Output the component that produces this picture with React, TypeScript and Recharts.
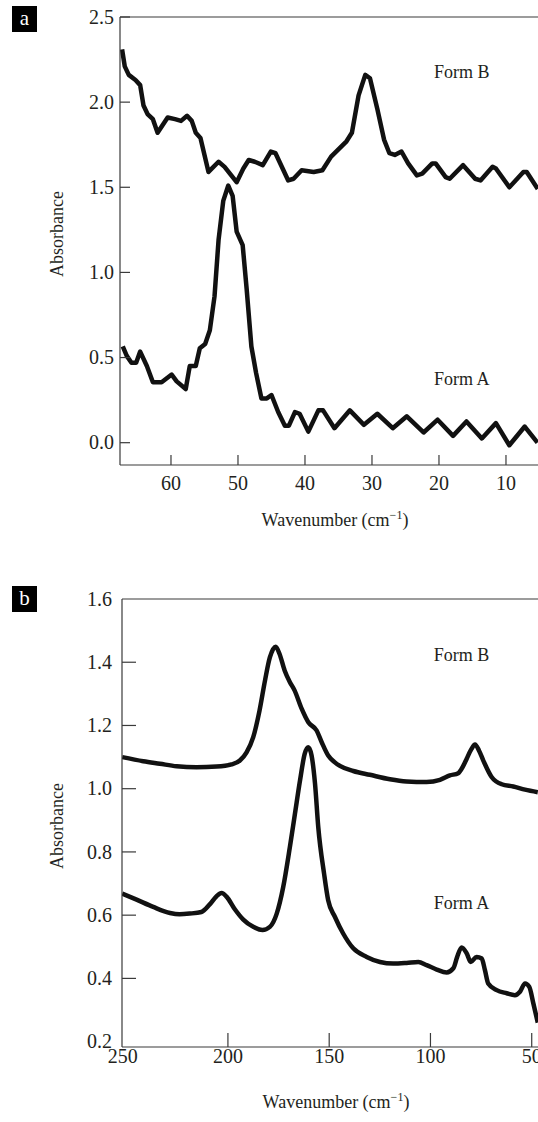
import { LineChart, Line, XAxis, YAxis, ReferenceLine, ReferenceDot } from 'recharts';

// Panel a (far-IR, 0–68 cm-1)
const aFormBWn = [67.3, 66.9, 66.3, 65.3, 64.6, 64.1, 63.5, 62.7, 62.0, 60.5, 59.4, 58.5, 57.6, 56.9, 56.3, 55.6, 54.4, 52.9, 52.0, 50.2, 49.2, 48.4, 47.5, 46.3, 45.1, 44.4, 42.5, 41.7, 40.5, 38.7, 37.4, 36.1, 33.8, 33.0, 32.0, 31.0, 30.3, 29.2, 28.2, 27.4, 26.6, 25.6, 24.6, 23.3, 22.5, 21.0, 20.5, 19.0, 18.4, 16.4, 14.6, 13.8, 12.0, 11.5, 9.5, 7.4, 6.9, 5.25];
const aFormBAbs = [2.31, 2.21, 2.16, 2.13, 2.1, 1.98, 1.93, 1.9, 1.82, 1.91, 1.9, 1.89, 1.92, 1.89, 1.82, 1.79, 1.59, 1.65, 1.62, 1.53, 1.61, 1.66, 1.65, 1.63, 1.71, 1.7, 1.54, 1.55, 1.6, 1.59, 1.6, 1.68, 1.77, 1.82, 2.04, 2.16, 2.14, 1.96, 1.78, 1.7, 1.69, 1.71, 1.64, 1.57, 1.58, 1.64, 1.64, 1.56, 1.55, 1.63, 1.55, 1.54, 1.62, 1.61, 1.5, 1.59, 1.59, 1.49];

const aFormAWn = [67.2, 66.6, 65.9, 65.2, 64.6, 63.6, 62.7, 61.4, 59.9, 59.15, 57.8, 57.2, 56.3, 55.7, 54.9, 54.2, 53.5, 52.9, 52.2, 51.45, 50.8, 50.2, 49.3, 48.7, 48.0, 47.3, 46.5, 45.7, 45.0, 44.0, 43.0, 42.4, 41.5, 40.8, 39.5, 38.0, 37.3, 35.6, 33.3, 31.2, 29.2, 26.9, 24.8, 22.3, 20.2, 17.9, 15.9, 13.6, 11.5, 9.5, 7.2, 5.3];
const aFormAAbs = [0.565, 0.51, 0.47, 0.47, 0.535, 0.45, 0.355, 0.355, 0.4, 0.36, 0.315, 0.45, 0.45, 0.555, 0.58, 0.66, 0.86, 1.19, 1.42, 1.51, 1.45, 1.24, 1.16, 0.9, 0.565, 0.41, 0.26, 0.26, 0.28, 0.18, 0.1, 0.1, 0.18, 0.17, 0.065, 0.19, 0.19, 0.085, 0.19, 0.105, 0.17, 0.085, 0.155, 0.06, 0.135, 0.04, 0.125, 0.025, 0.115, -0.015, 0.095, 0.0];

// Panel b (50–250 cm-1)
const bFormBWn = [252.2, 241.8, 233.6, 225.3, 215.5, 205.6, 198.2, 194.1, 190.8, 187.5, 184.4, 181.7, 179.3, 176.4, 174.5, 172.0, 169.4, 167.1, 163.6, 160.3, 156.2, 153.7, 150.5, 147.5, 144.7, 138.1, 129.9, 120.0, 111.8, 101.9, 95.3, 90.4, 86.3, 84.0, 82.1, 79.8, 78.0, 76.0, 73.9, 69.8, 64.8, 59.1, 53.3, 47.0];
const bFormBAbs = [1.1, 1.087, 1.079, 1.071, 1.068, 1.07, 1.077, 1.089, 1.115, 1.163, 1.247, 1.342, 1.415, 1.449, 1.426, 1.374, 1.337, 1.311, 1.253, 1.21, 1.184, 1.147, 1.105, 1.085, 1.072, 1.056, 1.044, 1.03, 1.023, 1.021, 1.028, 1.042, 1.049, 1.07, 1.095, 1.125, 1.14, 1.12, 1.089, 1.037, 1.014, 1.007, 0.997, 0.989];

const bFormAWn = [252.2, 245.1, 236.9, 228.6, 223.9, 218.9, 213.1, 209.0, 205.6, 203.1, 200.6, 196.5, 192.4, 187.5, 182.9, 179.3, 175.9, 172.7, 169.4, 166.9, 164.4, 162.1, 160.3, 158.7, 157.0, 155.4, 152.5, 150.5, 147.2, 143.1, 138.1, 131.5, 124.9, 118.4, 111.8, 106.0, 101.9, 96.9, 92.0, 88.7, 86.8, 84.6, 82.1, 80.1, 77.2, 74.7, 73.1, 71.5, 67.3, 62.4, 58.3, 55.8, 53.3, 51.2, 49.2, 47.0];
const bFormAAbs = [0.668, 0.649, 0.626, 0.607, 0.603, 0.605, 0.61, 0.634, 0.66, 0.67, 0.658, 0.618, 0.586, 0.563, 0.553, 0.563, 0.605, 0.689, 0.816, 0.921, 1.026, 1.11, 1.131, 1.105, 1.016, 0.879, 0.73, 0.647, 0.595, 0.542, 0.495, 0.468, 0.452, 0.447, 0.449, 0.452, 0.442, 0.428, 0.419, 0.432, 0.468, 0.498, 0.479, 0.452, 0.468, 0.463, 0.426, 0.384, 0.363, 0.353, 0.347, 0.358, 0.384, 0.373, 0.321, 0.26];

const aXTicks = [60, 50, 40, 30, 20, 10];
const aYTicks = [0, 0.5, 1.0, 1.5, 2.0, 2.5];
const bXTicks = [250, 200, 150, 100, 50];
const bYTicks = [0.2, 0.4, 0.6, 0.8, 1.0, 1.2, 1.4, 1.6];

const toPoints = (wn: number[], abs: number[]) => wn.map((w, i) => ({ wn: w, abs: abs[i] }));

const FONT = '"Liberation Serif", "Times New Roman", Times, serif';
const INK = '#231f20';
const AXIS = '#3a3a3a';
const TRACE = '#111111';
const TICK_FONT = 20;

const yTick = (len: number, gap: number, noLine: number[]) => (props: any) => {
  const { x, y, payload } = props;
  const v = payload.value as number;
  return (
    <g>
      {!noLine.includes(v) && <line x1={x} x2={x + len} y1={y} y2={y} stroke={AXIS} strokeWidth={1.2} />}
      <text x={x - gap} y={y} dy="0.34em" textAnchor="end" fill={INK} fontSize={TICK_FONT} fontFamily={FONT}>
        {v.toFixed(1)}
      </text>
    </g>
  );
};

// edge: tick value sitting on the axis corner, drawn without a tick line and nudged left
const xTick = (len: number, off: number, edge?: number) => (props: any) => {
  const { x, y, payload } = props;
  const v = payload.value as number;
  const isEdge = v === edge;
  return (
    <g>
      {!isEdge && <line x1={x} x2={x} y1={y} y2={y - len} stroke={AXIS} strokeWidth={1.2} />}
      <text x={isEdge ? x - 4 : x} y={y + off} dy="0.34em" textAnchor="middle" fill={INK} fontSize={TICK_FONT} fontFamily={FONT}>
        {v}
      </text>
    </g>
  );
};

const xLabel = (dx: number, dy: number) => (props: any) => {
  const vb = props.viewBox || { x: 0, y: 0, width: 0 };
  return (
    <text x={vb.x + vb.width / 2 + dx} y={vb.y + dy} textAnchor="middle" fill={INK} fontSize={18} fontFamily={FONT}>
      <tspan>Wavenumber (cm</tspan>
      <tspan dy={-7} fontSize={12}>−1</tspan>
      <tspan dy={7}>)</tspan>
    </text>
  );
};

const yLabel = (cx: number, dy: number) => (props: any) => {
  const vb = props.viewBox || { x: 0, y: 0, height: 0 };
  const cy = vb.y + vb.height / 2 + dy;
  return (
    <text x={cx} y={cy} transform={`rotate(-90 ${cx} ${cy})`} dy="0.34em" textAnchor="middle" fill={INK} fontSize={18} fontFamily={FONT}>
      Absorbance
    </text>
  );
};

const noteStyle = { fill: INK, fontSize: 18, fontFamily: FONT };

function PanelTag({ letter, top }: { letter: string; top: number }) {
  return (
    <div
      style={{
        position: 'absolute',
        left: 12,
        top,
        width: 25,
        height: 26,
        background: '#000',
        color: '#fff',
        fontFamily: FONT,
        fontSize: 21,
        lineHeight: '24px',
        textAlign: 'center',
      }}
    >
      {letter}
    </div>
  );
}

export default function App() {
  const aB = toPoints(aFormBWn, aFormBAbs);
  const aA = toPoints(aFormAWn, aFormAAbs);
  const bB = toPoints(bFormBWn, bFormBAbs);
  const bA = toPoints(bFormAWn, bFormAAbs);

  return (
    <div style={{ position: 'absolute', left: 0, top: 0, width: 538, height: 1122, overflow: 'hidden', background: '#fff' }}>
      <PanelTag letter="a" top={6} />
      <div style={{ position: 'absolute', left: 0, top: 0 }}>
        <LineChart width={538} height={545} margin={{ top: 17, right: 0, left: 0, bottom: 0 }}>
          <XAxis
            type="number"
            dataKey="wn"
            domain={[5.22, 67.61]}
            reversed
            allowDataOverflow
            ticks={aXTicks}
            interval={0}
            tickSize={0}
            tickMargin={0}
            tickLine={false}
            tick={xTick(10, 18)}
            axisLine={{ stroke: AXIS, strokeWidth: 1.2 }}
            height={80}
            label={xLabel(6, 61)}
          />
          <YAxis
            type="number"
            dataKey="abs"
            domain={[-0.131, 2.5]}
            allowDataOverflow
            ticks={aYTicks}
            interval={0}
            tickSize={0}
            tickMargin={0}
            tickLine={false}
            tick={yTick(10, 6, [])}
            axisLine={{ stroke: AXIS, strokeWidth: 1.2 }}
            width={120}
            label={yLabel(57, -7)}
          />
          <ReferenceLine y={2.5} stroke={AXIS} strokeWidth={1.2} />
          <Line data={aB} dataKey="abs" type="linear" stroke={TRACE} strokeWidth={4.5} strokeLinejoin="round" dot={false} isAnimationActive={false} />
          <Line data={aA} dataKey="abs" type="linear" stroke={TRACE} strokeWidth={4.5} strokeLinejoin="round" dot={false} isAnimationActive={false} />
          <ReferenceDot x={16.6} y={2.18} r={0} stroke="none" label={{ value: 'Form B', position: 'center', ...noteStyle }} />
          <ReferenceDot x={16.6} y={0.379} r={0} stroke="none" label={{ value: 'Form A', position: 'center', ...noteStyle }} />
        </LineChart>
      </div>

      <PanelTag letter="b" top={586} />
      <div style={{ position: 'absolute', left: 0, top: 580 }}>
        <LineChart width={538} height={542} margin={{ top: 19, right: 0, left: 0, bottom: 0 }}>
          <XAxis
            type="number"
            dataKey="wn"
            domain={[46.9, 252.3]}
            reversed
            allowDataOverflow
            ticks={bXTicks}
            interval={0}
            tickSize={0}
            tickMargin={0}
            tickLine={false}
            tick={xTick(14, 9, 250)}
            axisLine={{ stroke: AXIS, strokeWidth: 1.2 }}
            height={75}
            label={xLabel(6, 61)}
          />
          <YAxis
            type="number"
            dataKey="abs"
            domain={[0.183, 1.6]}
            allowDataOverflow
            ticks={bYTicks}
            interval={0}
            tickSize={0}
            tickMargin={0}
            tickLine={false}
            tick={yTick(14, 10, [0.2, 1.6])}
            axisLine={{ stroke: AXIS, strokeWidth: 1.2 }}
            width={122}
            label={yLabel(57, 3)}
          />
          <ReferenceLine y={1.6} stroke={AXIS} strokeWidth={1.2} />
          <Line data={bB} dataKey="abs" type="monotone" stroke={TRACE} strokeWidth={4.5} strokeLinejoin="round" dot={false} isAnimationActive={false} />
          <Line data={bA} dataKey="abs" type="monotone" stroke={TRACE} strokeWidth={4.5} strokeLinejoin="round" dot={false} isAnimationActive={false} />
          <ReferenceDot x={84.7} y={1.425} r={0} stroke="none" label={{ value: 'Form B', position: 'center', ...noteStyle }} />
          <ReferenceDot x={84.7} y={0.641} r={0} stroke="none" label={{ value: 'Form A', position: 'center', ...noteStyle }} />
        </LineChart>
      </div>
    </div>
  );
}
